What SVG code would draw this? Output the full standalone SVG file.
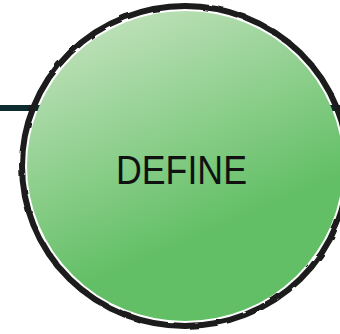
<svg xmlns="http://www.w3.org/2000/svg" width="340" height="334" viewBox="0 0 340 334">
  <defs>
    <linearGradient id="g" gradientUnits="userSpaceOnUse" x1="110" y1="15" x2="205" y2="235">
      <stop offset="0" stop-color="#bfe1ba"/>
      <stop offset="1" stop-color="#62bf65"/>
    </linearGradient>
    <filter id="rough" x="-5%" y="-5%" width="110%" height="110%">
      <feTurbulence type="fractalNoise" baseFrequency="0.06" numOctaves="2" seed="3"/>
      <feDisplacementMap in="SourceGraphic" scale="3"/>
    </filter>
    <style>
      .conn { stroke: #0e2b2f; stroke-width: 6; fill: none; }
      .label { font-family: "Liberation Sans", Arial, sans-serif; font-size: 40px; fill: #111; }
    </style>
  </defs>
  <rect width="340" height="334" fill="#fff"/>
  <g id="connectors">
    <line class="conn" x1="0" y1="108" x2="340" y2="108"/>
  </g>
  <g id="define">
    <ellipse cx="185" cy="166" rx="158" ry="155" fill="url(#g)"/>
    <ellipse cx="185" cy="166" rx="163" ry="160" fill="none" stroke="#1a1a1a" stroke-width="6" filter="url(#rough)"/>
    <text class="label" x="116" y="184" textLength="131" lengthAdjust="spacingAndGlyphs">DEFINE</text>
  </g>
</svg>
